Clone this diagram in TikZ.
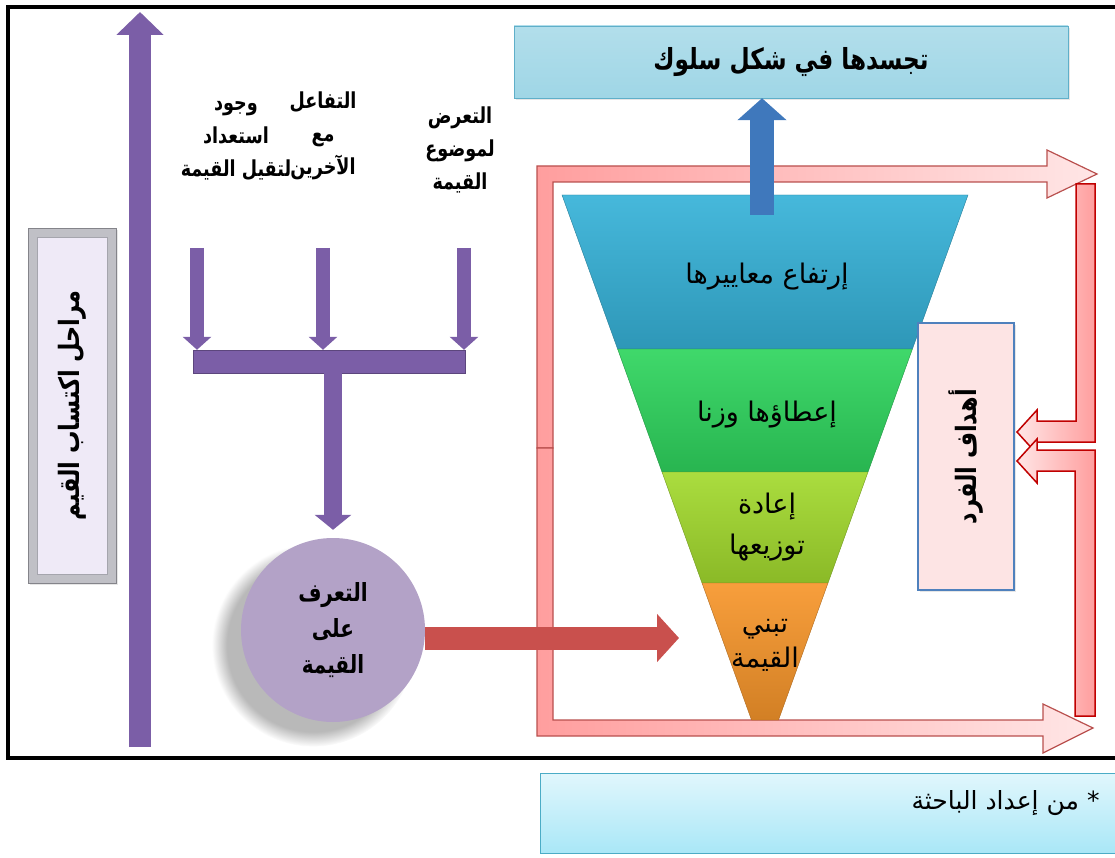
\documentclass[tikz,border=0pt]{standalone}
\usepackage{fontspec}
\usepackage{xcolor}
\usepackage{tikz}
\newfontfamily\arabicfont[Script=Arabic]{DejaVu Sans}
\newfontfamily\arabicnarrow[Script=Arabic, FakeStretch=0.8]{DejaVu Sans}
\TeXXeTstate=1
\usetikzlibrary{shapes,arrows.meta,positioning,calc,shadows}

\definecolor{valuepurple}{HTML}{7B5EA7}
\definecolor{stagefill}{HTML}{EFEAF7}
\definecolor{stageedge}{HTML}{A5A5AD}
\definecolor{circlefill}{HTML}{B3A2C7}
\definecolor{behaviorfill}{HTML}{9FD6E6}
\definecolor{behavioredge}{HTML}{5FAFC9}
\definecolor{goalfill}{HTML}{FDE4E4}
\definecolor{goaledge}{HTML}{4F81BD}
\definecolor{loopfill}{HTML}{FF9E9E}
\definecolor{looplight}{HTML}{FFE6E6}
\definecolor{loopedge}{HTML}{B9504E}
\definecolor{goalarrowedge}{HTML}{C00000}
\definecolor{adoptred}{HTML}{C9504D}
\definecolor{upblue}{HTML}{3F78BC}
\definecolor{footfill}{HTML}{A9E7F7}
\definecolor{footedge}{HTML}{4BACC6}
% funnel layers
\definecolor{layerone}{HTML}{36B2D8}
\definecolor{layertwo}{HTML}{2FD55E}
\definecolor{layerthree}{HTML}{A3DA2E}
\definecolor{layerfour}{HTML}{F7962B}

\newcommand{\artx}[1]{\beginR#1\endR}

\begin{document}
\begin{tikzpicture}[x=1pt, y=-1pt,
  boldlabel/.style={font=\arabicnarrow\bfseries\fontsize{22}{33}\selectfont, align=center, inner sep=0pt},
  layerlabel/.style={font=\arabicfont\fontsize{27}{38}\selectfont, align=center, inner sep=0pt},
  loopband/.style={draw=loopedge, line width=1.2pt, left color=loopfill, right color=looplight},
  goalband/.style={draw=goalarrowedge, line width=1.5pt, left color=looplight, right color=loopfill},
]
\useasboundingbox (0,0) rectangle (1115,858);

% Frame
\draw[line width=4pt] (8,7) rectangle (1140,758);

% Feedback loops
\draw[loopband] (537,448) -- (537,166) -- (1047,166) -- (1047,150) -- (1097,174) -- (1047,198) -- (1047,182) -- (553,182) -- (553,448) -- cycle;
\draw[loopband] (537,448) -- (537,736) -- (1043,736) -- (1043,753) -- (1093,728) -- (1043,704) -- (1043,720) -- (553,720) -- (553,448) -- cycle;
\draw[goalband] (1076,184) -- (1095,184) -- (1095,442) -- (1037,442) -- (1037,454) -- (1017,432) -- (1037,410) -- (1037,421) -- (1076,421) -- cycle;
\draw[goalband] (1075,716) -- (1095,716) -- (1095,450) -- (1037,450) -- (1037,439) -- (1017,461) -- (1037,483) -- (1037,471) -- (1075,471) -- cycle;

% Stages of acquisition
\node[fill=stageedge!70, draw=stageedge!80!black, minimum width=88pt, minimum height=355pt, drop shadow={opacity=0.2}] (stagesframe) at (72,405.5) {};
\node[fill=stagefill, draw=stageedge, rotate=90, minimum width=337pt, minimum height=70pt,
  font=\arabicnarrow\bfseries\fontsize{28}{32}\selectfont] (stages) at (stagesframe.center) {\artx{مراحل اكتساب القيم}};

\coordinate (stagebase) at (140,747);
\coordinate (stagetop) at (140,12);
\draw[valuepurple, line width=22pt, -{Triangle[width=46pt,length=23pt]}] (stagebase) -- (stagetop);

% Conditions
\node[boldlabel] (exposure) at (460,150) {\artx{التعرض}\\\artx{لموضوع}\\\artx{القيمة}};
\node[boldlabel] (interaction) at (323,136) {\artx{التفاعل}\\\artx{مع}\\\artx{الآخرين}};
\node[boldlabel] (readiness) at (236,141) {\artx{وجود}\\\artx{استعداد}\\\artx{لتقيل القيمة}};

\node[fill=valuepurple, draw=valuepurple!75!black, minimum width=272pt, minimum height=23pt, inner sep=0pt] (merge) at (329,361.5) {};
\coordinate (in1) at (197,248);
\coordinate (in2) at (323,248);
\coordinate (in3) at (464,248);
\foreach \c in {in1,in2,in3}
  \draw[valuepurple, line width=14pt, -{Triangle[width=28pt,length=13pt]}] (\c) -- (\c |- merge.north);

% Recognition
\node[circle, fill=circlefill, minimum size=184pt, align=center,
  circular drop shadow={shadow xshift=-18pt, shadow yshift=-14pt, shadow scale=1.1, opacity=0.55},
  font=\arabicnarrow\bfseries\fontsize{25}{36}\selectfont] (recognize) at (333,630) {\artx{التعرف}\\\artx{على}\\\artx{القيمة}};
\draw[valuepurple, line width=18pt, -{Triangle[width=36pt,length=15pt]}, shorten >=8pt] (merge.south -| recognize.north) -- (recognize.north);

% Funnel
\draw[draw=layerone!70!black, top color=layerone!92!white, bottom color=layerone!85!black] (562,195) -- (968,195) -- (912.4,349) -- (617.6,349) -- cycle;
\draw[draw=layertwo!70!black, top color=layertwo!92!white, bottom color=layertwo!85!black] (617.6,349) -- (912.4,349) -- (868,472) -- (662,472) -- cycle;
\draw[draw=layerthree!70!black, top color=layerthree!92!white, bottom color=layerthree!85!black] (662,472) -- (868,472) -- (828,583) -- (702,583) -- cycle;
\draw[draw=layerfour!70!black, top color=layerfour!92!white, bottom color=layerfour!85!black] (702,583) -- (828,583) -- (778.5,720) -- (751.5,720) -- cycle;

\node[layerlabel] (standards) at (767,277) {\artx{إرتفاع معاييرها}};
\node[layerlabel] (weighting) at (767,415) {\artx{إعطاؤها وزنا}};
\node[layerlabel, font=\arabicfont\fontsize{27}{41}\selectfont] (redistribute) at (767,527) {\artx{إعادة}\\\artx{توزيعها}};
\node[layerlabel, font=\arabicfont\fontsize{27}{35}\selectfont] (adoption) at (765,645) {\artx{تبني}\\\artx{القيمة}};

% Behaviour
\node[draw=behavioredge, top color=behaviorfill!80!white, bottom color=behaviorfill, minimum width=554pt, minimum height=72pt,
  drop shadow={opacity=0.2}, font=\arabicnarrow\bfseries\fontsize{29}{32}\selectfont] (behavior) at (791,62) {\artx{تجسدها في شكل سلوك}};
\coordinate (funneltop) at (762,215);
\draw[upblue, line width=24pt, -{Triangle[width=48pt,length=22pt]}] (funneltop) -- (funneltop |- behavior.south);

\coordinate (adoptin) at (679,638);
\draw[adoptred, line width=23pt, -{Triangle[width=47pt,length=22pt]}] (recognize.east |- adoptin) -- (adoptin);

% Goals
\node[draw=goaledge, fill=goalfill, line width=1.5pt, rotate=90, minimum width=267pt, minimum height=96pt,
  drop shadow={opacity=0.2}, font=\arabicnarrow\bfseries\fontsize{28}{32}\selectfont] (goals) at (966,456.5) {\artx{أهداف الفرد}};

% Source
\node[draw=footedge, top color=footfill!35!white, bottom color=footfill, minimum width=600pt, minimum height=80pt, anchor=north west] (source) at (540,773) {};
\node[font=\arabicfont\fontsize{25}{28}\selectfont, anchor=east] (sourcelbl) at (1103,803) {\artx{* من إعداد الباحثة}};
\end{tikzpicture}
\end{document}
